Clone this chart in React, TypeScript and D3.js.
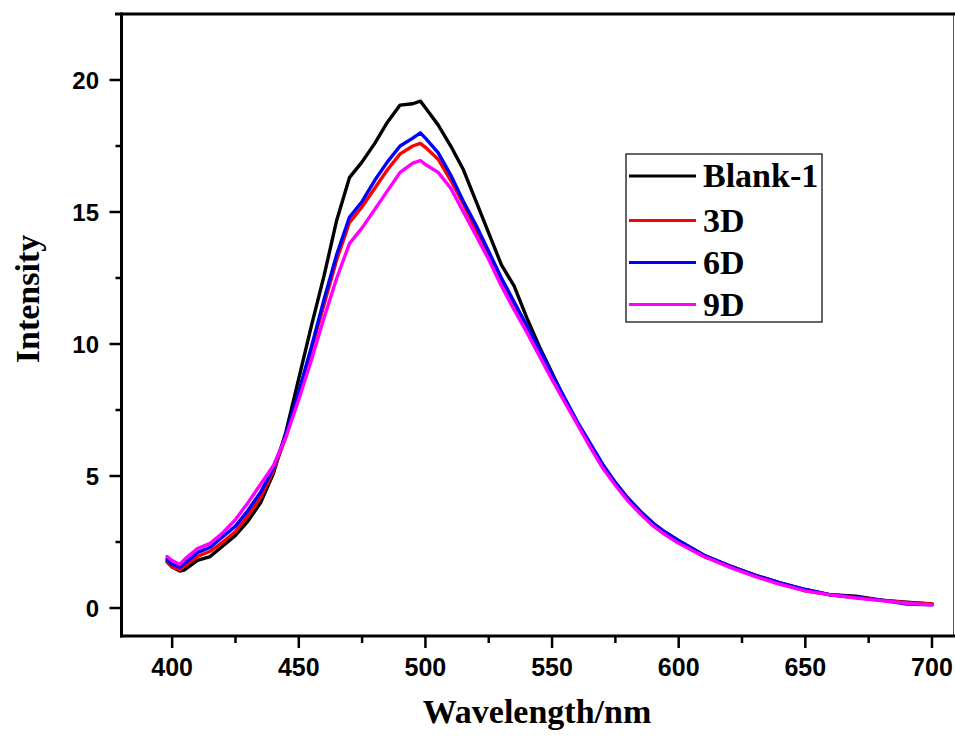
import React from "react";
import * as d3 from "d3";

const wavelengths = [398, 400, 403, 405, 410, 415, 420, 425, 430, 435, 440, 445, 450, 455, 460, 465, 470, 475, 480, 485, 490, 495, 498, 500, 505, 510, 515, 520, 525, 530, 535, 540, 545, 550, 555, 560, 565, 570, 575, 580, 585, 590, 595, 600, 610, 620, 630, 640, 650, 660, 670, 680, 690, 700];

const blank1 = [1.75, 1.55, 1.4, 1.45, 1.8, 1.95, 2.35, 2.75, 3.3, 4.0, 5.1, 6.7, 8.7, 10.7, 12.6, 14.7, 16.3, 16.9, 17.6, 18.4, 19.05, 19.1, 19.2, 18.95, 18.3, 17.5, 16.6, 15.4, 14.2, 13.0, 12.2, 11.0, 9.9, 8.9, 7.9, 7.0, 6.2, 5.4, 4.75, 4.15, 3.65, 3.2, 2.85, 2.55, 2.0, 1.6, 1.25, 0.95, 0.7, 0.5, 0.45, 0.3, 0.22, 0.15];
const d3Series = [1.8, 1.55, 1.45, 1.6, 1.95, 2.15, 2.5, 2.9, 3.5, 4.2, 5.2, 6.5, 8.1, 9.8, 11.5, 13.2, 14.6, 15.2, 15.9, 16.6, 17.2, 17.5, 17.6, 17.45, 17.0, 16.2, 15.3, 14.3, 13.3, 12.4, 11.5, 10.6, 9.7, 8.75, 7.85, 7.0, 6.15, 5.35, 4.7, 4.1, 3.6, 3.15, 2.8, 2.5, 1.95, 1.6, 1.25, 0.95, 0.65, 0.5, 0.4, 0.3, 0.2, 0.15];
const d6Series = [1.85, 1.65, 1.55, 1.7, 2.1, 2.3, 2.7, 3.1, 3.7, 4.4, 5.3, 6.6, 8.2, 9.9, 11.7, 13.4, 14.8, 15.4, 16.2, 16.9, 17.5, 17.8, 18.0, 17.8, 17.25, 16.4, 15.4, 14.5, 13.5, 12.5, 11.6, 10.7, 9.8, 8.85, 7.95, 7.05, 6.25, 5.45, 4.75, 4.15, 3.65, 3.2, 2.85, 2.55, 2.0, 1.6, 1.25, 0.95, 0.7, 0.5, 0.4, 0.3, 0.15, 0.12];
const d9Series = [1.95, 1.8, 1.65, 1.85, 2.25, 2.45, 2.85, 3.35, 4.0, 4.7, 5.4, 6.5, 7.9, 9.4, 11.0, 12.5, 13.8, 14.4, 15.1, 15.8, 16.5, 16.85, 16.95, 16.8, 16.5, 15.9, 15.0, 14.1, 13.2, 12.2, 11.3, 10.45, 9.55, 8.65, 7.8, 6.95, 6.1, 5.3, 4.65, 4.05, 3.55, 3.1, 2.75, 2.45, 1.95, 1.55, 1.2, 0.9, 0.65, 0.5, 0.38, 0.28, 0.18, 0.12];

const seriesNames = ["Blank-1", "3D", "6D", "9D"];
const seriesColors = ["#000000", "#ff0000", "#0000ff", "#ff00ff"];
const seriesValues = [blank1, d3Series, d6Series, d9Series];

const xMajorTicks = [400, 450, 500, 550, 600, 650, 700];
const xMinorTicks = [425, 475, 525, 575, 625, 675];
const yMajorTicks = [0, 5, 10, 15, 20];
const yMinorTicks = [2.5, 7.5, 12.5, 17.5];

const W = 955;
const H = 738;
const L = 121.5;
const R = 953.5;
const T = 14;
const B = 636;

export default function App() {
  const x = d3.scaleLinear().domain([380, 708.5]).range([L, R]);
  const y = d3.scaleLinear().domain([-1.06, 22.5]).range([B, T]);
  const line = d3
    .line<number>()
    .x((_, i) => x(wavelengths[i]))
    .y((v) => y(v))
    .curve(d3.curveLinear);

  const sans = "'Liberation Sans', Arial, sans-serif";
  const serif = "'Liberation Serif', 'Times New Roman', serif";

  const legendX = 626;
  const legendY = 154;
  const legendRows = [176, 220.5, 262.5, 304.5];

  return (
    <svg
      width={W}
      height={H}
      viewBox={`0 0 ${W} ${H}`}
      style={{ position: "absolute", left: 0, top: 0, background: "#fff" }}
    >
      <rect x={0} y={0} width={W} height={H} fill="#fff" />
      {/* curves */}
      <g>
        {seriesValues.map((vals, k) => (
          <path
            key={seriesNames[k]}
            d={line(vals) || ""}
            fill="none"
            stroke={seriesColors[k]}
            strokeWidth={3.4}
            strokeLinejoin="round"
            strokeLinecap="round"
          />
        ))}
      </g>
      {/* frame */}
      <line x1={R} y1={T} x2={R} y2={B} stroke="#555" strokeWidth={1} />
      <line x1={115} y1={T} x2={W} y2={T} stroke="#000" strokeWidth={3} />
      <line x1={L} y1={T - 1.5} x2={L} y2={B + 1.5} stroke="#000" strokeWidth={3} />
      <line x1={L - 1.5} y1={B} x2={W} y2={B} stroke="#000" strokeWidth={3} />
      {/* y ticks */}
      {yMajorTicks.map((t) => (
        <g key={"ym" + t}>
          <line x1={L - 12} x2={L} y1={y(t)} y2={y(t)} stroke="#000" strokeWidth={2.5} />
          <text
            x={99}
            y={y(t)}
            dy="0.36em"
            textAnchor="end"
            fontFamily={sans}
            fontWeight="bold"
            fontSize={24}
            fill="#000"
          >
            {t}
          </text>
        </g>
      ))}
      {yMinorTicks.map((t) => (
        <line key={"yn" + t} x1={L - 6} x2={L} y1={y(t)} y2={y(t)} stroke="#000" strokeWidth={2.5} />
      ))}
      {/* x ticks */}
      {xMajorTicks.map((t) => (
        <g key={"xm" + t}>
          <line x1={x(t)} x2={x(t)} y1={B} y2={B + 12} stroke="#000" strokeWidth={2.5} />
          <text
            x={x(t)}
            y={676}
            textAnchor="middle"
            fontFamily={sans}
            fontWeight="bold"
            fontSize={25}
            fill="#000"
          >
            {t}
          </text>
        </g>
      ))}
      {xMinorTicks.map((t) => (
        <line key={"xn" + t} x1={x(t)} x2={x(t)} y1={B} y2={B + 7} stroke="#000" strokeWidth={2.5} />
      ))}
      {/* axis titles */}
      <text
        x={537}
        y={723}
        textAnchor="middle"
        fontFamily={serif}
        fontWeight="bold"
        fontSize={34}
        fill="#000"
      >
        Wavelength/nm
      </text>
      <text
        transform="translate(39,299) rotate(-90)"
        textAnchor="middle"
        fontFamily={serif}
        fontWeight="bold"
        fontSize={34}
        fill="#000"
      >
        Intensity
      </text>
      {/* legend */}
      <rect
        x={legendX}
        y={legendY}
        width={196}
        height={168}
        fill="#fff"
        stroke="#333"
        strokeWidth={1.5}
      />
      {seriesNames.map((name, k) => (
        <g key={"lg" + name}>
          <line
            x1={629}
            x2={696}
            y1={legendRows[k]}
            y2={legendRows[k]}
            stroke={seriesColors[k]}
            strokeWidth={3.2}
          />
          <text
            x={703}
            y={legendRows[k]}
            dy="0.33em"
            fontFamily={serif}
            fontWeight="bold"
            fontSize={34}
            fill="#000"
          >
            {name}
          </text>
        </g>
      ))}
    </svg>
  );
}
